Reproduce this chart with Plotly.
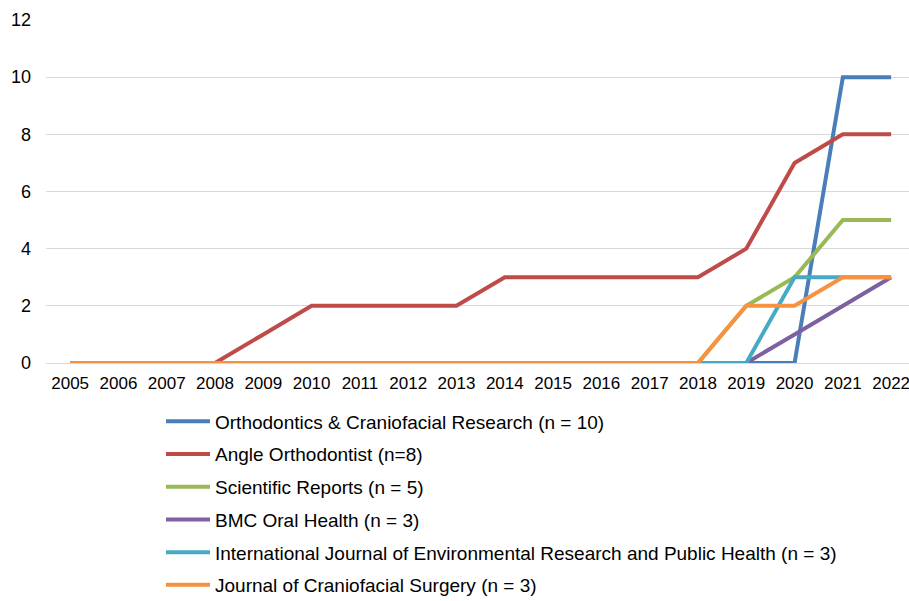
import plotly.graph_objects as go

years = [str(y) for y in range(2005, 2023)]
ocr = [0,0,0,0,0,0,0,0,0,0,0,0,0,0,0,0,10,10]
angle = [0,0,0,0,1,2,2,2,2,3,3,3,3,3,4,7,8,8]
scirep = [0,0,0,0,0,0,0,0,0,0,0,0,0,0,2,3,5,5]
bmc = [0,0,0,0,0,0,0,0,0,0,0,0,0,0,0,1,2,3]
ijerph = [0,0,0,0,0,0,0,0,0,0,0,0,0,0,0,3,3,3]
jcs = [0,0,0,0,0,0,0,0,0,0,0,0,0,0,2,2,3,3]

series = [
    ("Orthodontics & Craniofacial Research (n = 10)", ocr, "#4A7EBB"),
    ("Angle Orthodontist (n=8)", angle, "#BE4B48"),
    ("Scientific Reports (n = 5)", scirep, "#98B954"),
    ("BMC Oral Health (n = 3)", bmc, "#7D60A0"),
    ("International Journal of Environmental Research and Public Health (n = 3)", ijerph, "#46AAC5"),
    ("Journal of Craniofacial Surgery (n = 3)", jcs, "#F69240"),
]

fig = go.Figure()
for i, (name, vals, col) in enumerate(series):
    fig.add_trace(go.Scatter(x=years, y=vals, mode="lines", name=name,
                             legendgroup=str(i),
                             line=dict(color=col, width=4)))

fig.update_layout(
    width=909, height=601,
    margin=dict(l=46, r=0, t=20, b=238, autoexpand=False),
    paper_bgcolor="white", plot_bgcolor="white",
    font=dict(family="Liberation Sans, Arial", size=16, color="#000000"),
    showlegend=True,
    legend=dict(xref="container", yref="container",
                x=161/909, y=1 - 402.5/601, xanchor="left", yanchor="top",
                font=dict(size=19), tracegroupgap=5, itemwidth=44,
                bgcolor="rgba(0,0,0,0)"),
)
fig.update_xaxes(type="category", range=[-0.5, 17.37], showgrid=False,
                 showline=True, linecolor="#D9D9D9", linewidth=1,
                 ticks="", tickfont=dict(size=17), ticklabelstandoff=5)
fig.update_yaxes(range=[0, 12], dtick=2, showgrid=True, gridcolor="#D9D9D9",
                 gridwidth=1, zeroline=False, ticks="", tickfont=dict(size=18),
                 ticklabelstandoff=14)

fig.write_html("out.html")
